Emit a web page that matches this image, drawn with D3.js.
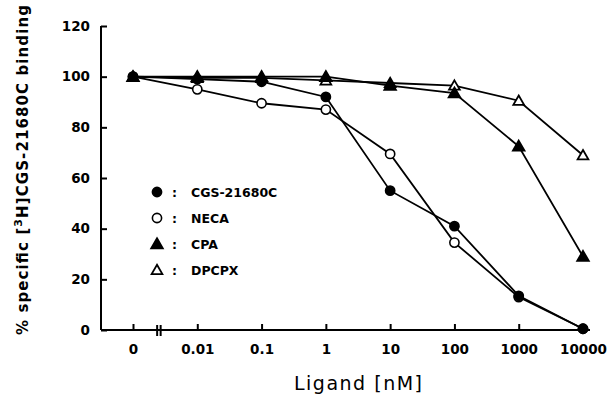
<!DOCTYPE html>
<html>
<head>
<meta charset="utf-8">
<script src="https://cdn.jsdelivr.net/npm/d3@7"></script>
<style>
  html, body { margin: 0; padding: 0; background: #fff; }
  svg { display: block; }
  text { fill: #000; }
</style>
</head>
<body>
<svg id="chart" width="608" height="398"></svg>
<script>
// Ligand concentrations (nM) along the x axis
const concentrations = ["0", "0.01", "0.1", "1", "10", "100", "1000", "10000"];

// % specific [3H]CGS-21680C binding for each competing ligand
const cgs21680c = [100, 99, 98, 92, 55, 41, 13.5, 0.5];
const neca      = [100, 95, 89.5, 87, 69.5, 34.5, 13, 0.5];
const cpa       = [100, 100, 100, 100, 96.5, 93.5, 72.5, 29];
const dpcpx     = [100, 99.5, 99.5, 98.5, 97.5, 96.5, 90.5, 69];

const yTicks = [0, 20, 40, 60, 80, 100, 120];

const seriesNames = ["CGS-21680C", "NECA", "CPA", "DPCPX"];
const seriesValues = [cgs21680c, neca, cpa, dpcpx];
const seriesMarkers = ["circle-filled", "circle-open", "triangle-filled", "triangle-open"];

const svg = d3.select("#chart");
const font = "'DejaVu Sans', sans-serif";

const x = d3.scalePoint().domain(concentrations).range([133, 583]);
const y = d3.scaleLinear().domain([0, 120]).range([330, 26]);

const axisLeftX = 101;
const axisRightX = 590;

// Y axis
const yAxis = svg.append("g")
  .attr("transform", `translate(${axisLeftX},0)`)
  .call(d3.axisLeft(y).tickValues(yTicks).tickSizeInner(-6).tickSizeOuter(0).tickPadding(11));
yAxis.select(".domain").attr("stroke", "#000").attr("stroke-width", 2)
  .attr("d", `M0,${y(120)}V${y(0)}`);
yAxis.selectAll(".tick line").attr("stroke", "#000").attr("stroke-width", 2);
yAxis.selectAll(".tick text")
  .attr("font-family", font).attr("font-weight", "bold").attr("font-size", 13.5)
  .attr("fill", "#000");

// X axis with ticks pointing into the plot
const xAxis = svg.append("g")
  .attr("transform", `translate(0,${y(0)})`)
  .call(d3.axisBottom(x).tickSizeInner(-6).tickSizeOuter(0).tickPadding(14));
xAxis.select(".domain").attr("stroke", "#000").attr("stroke-width", 2)
  .attr("d", `M${axisLeftX},0H${axisRightX}`);
xAxis.selectAll(".tick line").attr("stroke", "#000").attr("stroke-width", 2);
xAxis.selectAll(".tick text")
  .attr("font-family", font).attr("font-weight", "bold").attr("font-size", 13.5)
  .attr("fill", "#000");

// Axis break between the zero point and the log-spaced concentrations
const breakX = (x("0") + x("0.01")) / 2 - 8;
[0, 3.5].forEach(dx => {
  svg.append("line")
    .attr("x1", breakX + dx).attr("x2", breakX + dx)
    .attr("y1", y(0) - 5).attr("y2", y(0) + 6)
    .attr("stroke", "#000").attr("stroke-width", 2);
});

// Axis titles
svg.append("text")
  .attr("x", (x("0") + x("10000")) / 2)
  .attr("y", 390)
  .attr("text-anchor", "middle")
  .attr("font-family", font).attr("font-size", 19)
  .attr("textLength", 128).attr("lengthAdjust", "spacing")
  .text("Ligand [nM]");

const yTitle = svg.append("text")
  .attr("transform", "translate(28,170) rotate(-90)")
  .attr("text-anchor", "middle")
  .attr("font-family", font).attr("font-weight", "bold").attr("font-size", 15)
  .attr("textLength", 330).attr("lengthAdjust", "spacing");
yTitle.append("tspan").text("% specific [");
yTitle.append("tspan").attr("baseline-shift", "super").attr("font-size", 11).text("3");
yTitle.append("tspan").text("H]CGS-21680C binding");

// Marker drawing
function drawMarker(g, kind, cx, cy) {
  if (kind.startsWith("circle")) {
    g.append("circle")
      .attr("cx", cx).attr("cy", cy).attr("r", 4.6)
      .attr("fill", kind.endsWith("filled") ? "#000" : "#fff")
      .attr("stroke", "#000").attr("stroke-width", 1.6);
  } else {
    const s = d3.symbol().type(d3.symbolTriangle).size(kind.endsWith("filled") ? 58 : 50);
    g.append("path")
      .attr("d", s())
      .attr("transform", `translate(${cx},${cy + 1})`)
      .attr("fill", kind.endsWith("filled") ? "#000" : "#fff")
      .attr("stroke", "#000").attr("stroke-width", 1.8);
  }
}

const line = d3.line()
  .x((d, i) => x(concentrations[i]))
  .y(d => y(d));

const plot = svg.append("g");
seriesValues.forEach(vals => {
  plot.append("path")
    .attr("d", line(vals))
    .attr("fill", "none").attr("stroke", "#000").attr("stroke-width", 1.8);
});
// Markers drawn back-to-front so the filled circles sit on top
[3, 2, 1, 0].forEach(k => {
  seriesValues[k].forEach((v, i) => drawMarker(plot, seriesMarkers[k], x(concentrations[i]), y(v)));
});

// Legend
const legend = svg.append("g");
seriesNames.forEach((name, i) => {
  const cy = 192 + i * 26;
  drawMarker(legend, seriesMarkers[i], 157, cy);
  legend.append("text")
    .attr("x", 172).attr("y", cy + 4.5)
    .attr("font-family", font).attr("font-weight", "bold").attr("font-size", 12.5)
    .text(":");
  legend.append("text")
    .attr("x", 191).attr("y", cy + 4.5)
    .attr("font-family", font).attr("font-weight", "bold").attr("font-size", 12.5)
    .text(name);
});
</script>
</body>
</html>
